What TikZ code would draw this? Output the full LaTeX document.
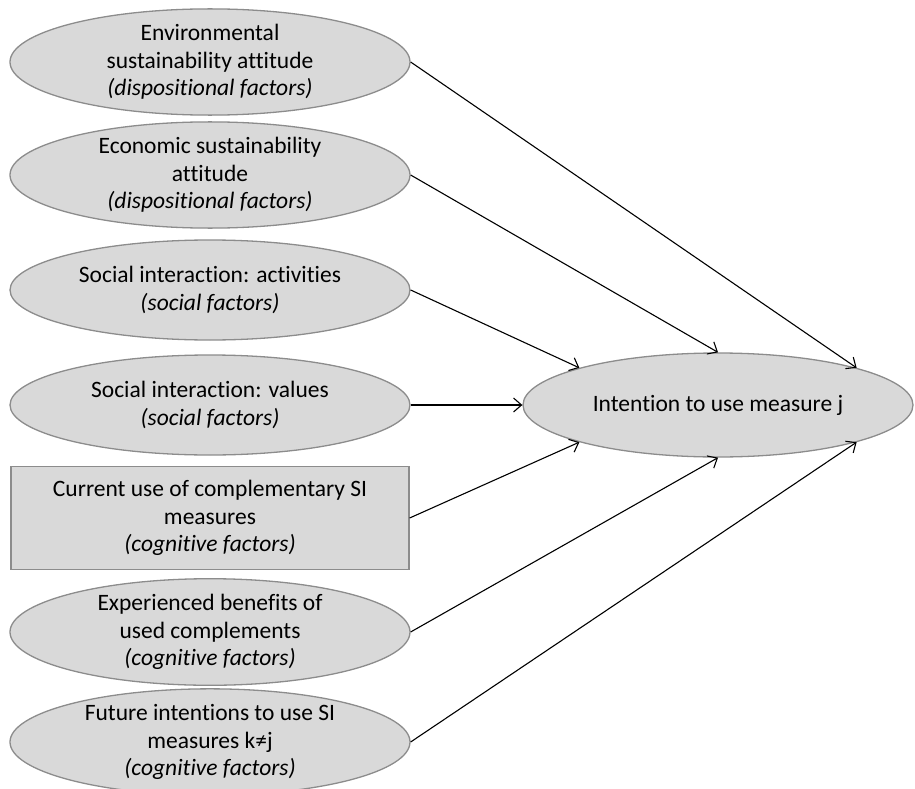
\documentclass[tikz,border=0pt]{standalone}
\usepackage{fontspec}
\setmainfont[Ligatures=NoCommon]{Carlito}
\usetikzlibrary{arrows.meta,shapes.geometric}

\definecolor{factorfill}{RGB}{217,217,217}
\definecolor{factorline}{RGB}{140,140,140}

\begin{document}
\begin{tikzpicture}[
  x=1pt, y=-1pt,
  factor/.style={ellipse, draw=factorline, fill=factorfill, line width=1.3pt,
    minimum width=400pt, minimum height=100pt, inner sep=0pt, align=center,
    font=\fontsize{23.5}{27.5}\selectfont},
  factorbox/.style={factor, rectangle, minimum width=398pt, minimum height=103pt},
  arr/.style={-{Straight Barb[length=8pt,width=14pt]}, line width=1.1pt}
]
\useasboundingbox (0,0) rectangle (915,789);

% Dispositional factors
\node[factor] (envatt) at (210,62) {Environmental\\sustainability attitude\\\textit{(dispositional factors)}};
\node[factor] (ecoatt) at (210,175) {Economic sustainability\\attitude\\\textit{(dispositional factors)}};

% Social factors
\node[factor] (socact) at (210,290) {Social interaction: activities\\\textit{(social factors)}};
\node[factor] (socval) at (210,405) {Social interaction: values\\\textit{(social factors)}};

% Cognitive factors
\node[factorbox] (curuse) at (210,518) {Current use of complementary SI\\measures\\\textit{(cognitive factors)}};
\node[factor] (expben) at (210,632) {Experienced benefits of\\used complements\\\textit{(cognitive factors)}};
\node[factor, minimum height=96pt] (futint) at (210,742) {Future intentions to use SI\\measures k≠j\\\textit{(cognitive factors)}};

% Intention
\node[factor, minimum width=390pt, minimum height=104pt] (intent) at (718,405) {Intention to use measure j};

% Arrows
\draw[arr] (envatt.east) -- (intent.15);
\draw[arr] (ecoatt.east) -- (intent.north);
\draw[arr] (socact.east) -- (intent.165);
\draw[arr] (socval.east) -- (intent.west);
\draw[arr] (curuse.east) -- (intent.195);
\draw[arr] (expben.east) -- (intent.south);
\draw[arr] (futint.east) -- (intent.345);

\end{tikzpicture}
\end{document}
